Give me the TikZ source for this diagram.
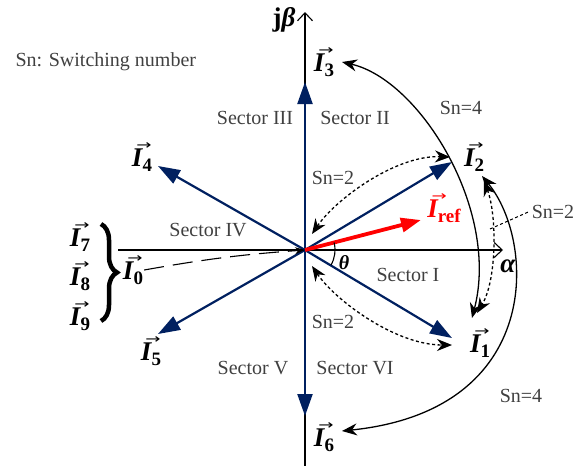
\documentclass[tikz,border=0pt]{standalone}
\usepackage{fontspec}
\setmainfont{Liberation Serif}
\newfontfamily\arrowfont{DejaVu Sans}
\usetikzlibrary{arrows.meta,decorations.pathreplacing}
\definecolor{navy}{RGB}{0,32,96}
\definecolor{txtgray}{RGB}{64,64,64}
\newcommand\vecI[1]{{\bfseries\itshape\makebox[0pt][l]{\kern0.16em\raisebox{0.62em}{\scalebox{1.4}[1]{\arrowfont\fontsize{13}{13}\selectfont\upshape\mdseries →}}}I}{\bfseries\fontsize{19}{19}\selectfont\raisebox{-0.25em}{#1}}}
\begin{document}
\begin{tikzpicture}[x=1pt,y=-1pt,font=\fontsize{20}{22}\selectfont,
  vecarrow/.style={navy,line width=2.2pt,-{Triangle[length=22pt,width=15pt]}},
  axis/.style={black,line width=1.1pt,-{Straight Barb[length=8pt,width=15pt,line width=1.1pt]}},
  swarc/.style={black,line width=1.3pt,{Stealth[length=15pt,width=12pt]}-{Stealth[length=15pt,width=12pt]}},
  dotarc/.style={black,line width=1.3pt,dash pattern=on 3pt off 2.5pt,{Stealth[length=15pt,width=12pt]}-{Stealth[length=15pt,width=12pt]}},
  sector/.style={text=txtgray},
  snlab/.style={text=txtgray},
  vlab/.style={font=\fontsize{27}{29}\selectfont,inner sep=1pt}]
\useasboundingbox (0,0) rectangle (576,466);
% origin and tips
\coordinate (O) at (305,250);
\coordinate (t1) at (452,338);
\coordinate (t2) at (452,162);
\coordinate (t3) at (305,82);
\coordinate (t4) at (158,166);
\coordinate (t5) at (158,334);
\coordinate (t6) at (305,416);
\coordinate (tref) at (421,220);
% axes
\coordinate (yb) at (305,466);
\coordinate (yt) at (305,12);
\coordinate (xl) at (118,250);
\coordinate (xr) at (503,250);
\draw[axis] (yb) -- (yt);
\draw[line width=1.1pt] (xl) -- (O);
\draw[axis] (O) -- (xr);
% blue vectors
\foreach \t in {t1,t2,t3,t4,t5,t6} \draw[vecarrow] (O) -- (\t);
% reference vector
\draw[red,line width=3.8pt,-{Triangle[length=20pt,width=14pt]}] (O) -- (tref);
% theta arc
\draw[line width=1.1pt] (331,265) arc[start angle=30,end angle=-14.6,radius=30];
\node (theta) at (344,263) {\textbf{\textit{θ}}};
% labels
\node[vlab] (L1) at (480,343) {\vecI{1}};
\node[vlab] (L2) at (474,157) {\vecI{2}};
\node[vlab] (L3) at (324,62) {\vecI{3}};
\node[vlab] (L4) at (142,157) {\vecI{4}};
\node[vlab] (L5) at (151,351) {\vecI{5}};
\node[vlab] (L6) at (324,437) {\vecI{6}};
\node[vlab] (L7) at (80,237) {\vecI{7}};
\node[vlab] (L8) at (80,276) {\vecI{8}};
\node[vlab] (L9) at (80,316) {\vecI{9}};
\node[vlab] (L0) at (133,270) {\vecI{0}};
\node[vlab,text=red] (Lref) at (444,208) {\vecI{ref}};
\node[vlab] (jb) at (284,20) {\textbf{j\textit{β}}};
\node[vlab] (al) at (508,266) {\textbf{\textit{α}}};
% brace and I0 dashed line
\draw[decorate,decoration={brace,amplitude=16pt},line width=4.5pt] (101,224) -- (101,321);
\draw[line width=1.1pt,dash pattern=on 20pt off 9pt,-{Stealth[length=10pt,width=7pt]}] (L0.east) to[bend left=3] (O);
% sector labels
\node[sector] (s1) at (408,275) {Sector I};
\node[sector] (s2) at (355,118) {Sector II};
\node[sector] (s3) at (255,118) {Sector III};
\node[sector] (s4) at (208,230) {Sector IV};
\node[sector] (s5) at (253,368) {Sector V};
\node[sector] (s6) at (355,368) {Sector VI};
\node[anchor=west,text=txtgray] (sn) at (12,62) {Sn: Switching number};
% switching labels
\node[snlab] (sn2a) at (333,178) {Sn=2};
\node[snlab] (sn2b) at (333,322) {Sn=2};
\node[snlab] (sn2c) at (553,212) {Sn=2};
\node[snlab] (sn4a) at (461,108) {Sn=4};
\node[snlab] (sn4b) at (521,396) {Sn=4};
% arc end points
\coordinate (a3) at (342,62);
\coordinate (a1) at (472,318);
\coordinate (b2) at (482,176);
\coordinate (b6) at (342,431);
\coordinate (c2) at (484,181);
\coordinate (c1) at (477,313);
\coordinate (d0) at (312,234);
\coordinate (d2) at (450,157);
\coordinate (e0) at (312,266);
\coordinate (e1) at (452,345);
\coordinate (cm) at (490,229);
% arcs
\draw[swarc] (a3) .. controls (420,80) and (500,210) .. (a1);
\draw[swarc] (b2) .. controls (535,240) and (545,410) .. (b6);
\draw[dotarc] (c2) .. controls (497,215) and (497,280) .. (c1);
\draw[dotarc] (d0) .. controls (335,200) and (395,155) .. (d2);
\draw[dotarc] (e0) .. controls (335,300) and (395,345) .. (e1);
\draw[line width=1pt,dash pattern=on 3pt off 2.5pt] (cm) -- (sn2c.west);
\end{tikzpicture}
\end{document}
